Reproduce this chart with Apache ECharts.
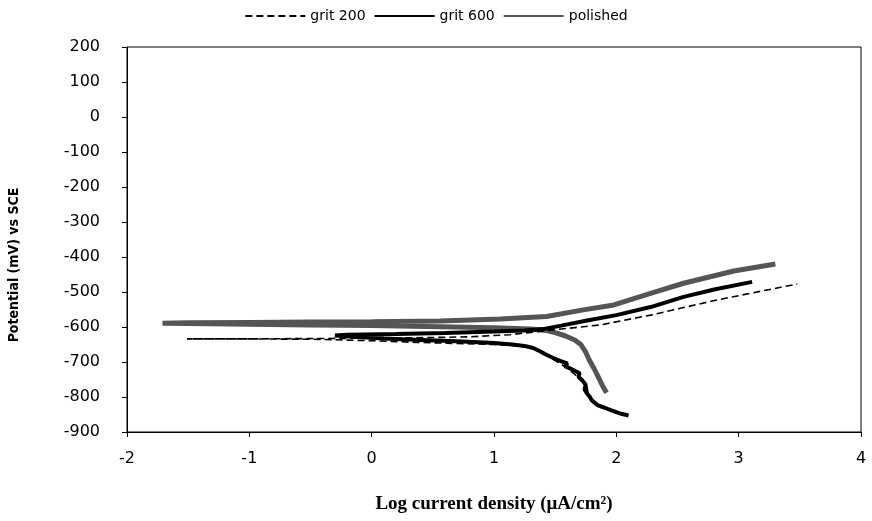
<!DOCTYPE html>
<html>
<head>
<meta charset="utf-8">
<script src="https://cdn.jsdelivr.net/npm/echarts@6/dist/echarts.min.js"></script>
<style>
html,body{margin:0;padding:0;background:#fff;}
#chart{width:872px;height:521px;}
</style>
</head>
<body>
<div id="chart"></div>
<script>
// ---- data (log current density, potential mV vs SCE) ----
const seriesNames = ['grit 200', 'grit 600', 'polished'];

const grit200 = [
  [2.07,-850],[1.95,-836],[1.85,-822],[1.80,-805],[1.77,-790],[1.76,-770],[1.72,-755],
  [1.66,-735],[1.60,-718],[1.52,-700],[1.45,-685],[1.38,-670],[1.30,-660],[1.20,-654],
  [1.00,-650],[0.70,-647],[0.37,-644],[0.00,-639],[-0.50,-635],[-1.00,-634],[-1.51,-634],
  [-1.00,-634],[-0.50,-633],[0.00,-632],[0.50,-630],[0.80,-628],[1.13,-622],[1.46,-609],
  [1.87,-594],[2.28,-566],[2.82,-523],[3.48,-477]
];

const grit600 = [
  [2.10,-853],[2.04,-848],[1.96,-838],[1.90,-830],[1.85,-824],[1.80,-810],[1.78,-798],
  [1.76,-790],[1.74,-778],[1.75,-765],[1.72,-752],[1.69,-742],[1.70,-732],[1.66,-725],
  [1.62,-718],[1.58,-712],[1.60,-704],[1.54,-697],[1.48,-688],[1.42,-678],[1.38,-670],
  [1.32,-660],[1.25,-654],[1.15,-650],[1.00,-646],[0.70,-641],[0.40,-637],[0.10,-633],
  [-0.15,-628],[-0.30,-624],[-0.20,-622],[0.20,-620],[0.60,-617],[1.00,-613],[1.25,-610],
  [1.40,-606],[1.55,-596],[1.75,-582],[2.00,-566],[2.28,-543],[2.55,-514],[2.80,-493],
  [3.11,-471]
];

const polished = [
  [1.92,-788],[1.89,-770],[1.86,-748],[1.82,-720],[1.78,-695],[1.75,-672],[1.71,-650],
  [1.66,-637],[1.58,-625],[1.50,-616],[1.43,-610],[1.30,-606],[1.00,-602],[0.56,-599],
  [0.00,-596],[-0.50,-594],[-1.00,-592],[-1.50,-590],[-1.71,-589],[-1.50,-588],
  [-1.00,-587],[-0.50,-586],[0.00,-585],[0.56,-583],[1.05,-577],[1.43,-570],[1.73,-551],
  [1.98,-537],[2.28,-504],[2.55,-475],[2.96,-440],[3.30,-420]
];

const xTicks = { min: -2, max: 4, interval: 1 };
const yTicks = { min: -900, max: 200, interval: 100 };

const xTitle = 'Log current density (μA/cm²)';
const yTitle = 'Potential (mV) vs SCE';

const chart = echarts.init(document.getElementById('chart'), null, { renderer: 'canvas' });

const labelFont = { fontFamily: 'DejaVu Sans', fontSize: 16, color: '#000' };

chart.setOption({
  animation: false,
  backgroundColor: '#fff',
  legend: {
    top: 4,
    left: 'center',
    itemWidth: 60,
    itemHeight: 12,
    itemGap: 8,
    itemStyle: { opacity: 0 },
    textStyle: { fontFamily: 'DejaVu Sans', fontSize: 14, color: '#000' },
    data: seriesNames
  },
  graphic: [{
    type: 'text',
    x: 14,
    y: 265,
    rotation: Math.PI / 2,
    style: {
      text: yTitle,
      fontFamily: 'DejaVu Sans Condensed, Liberation Sans',
      fontWeight: 'bold',
      fontSize: 14,
      fill: '#000',
      align: 'center',
      verticalAlign: 'middle'
    }
  }],
  grid: {
    left: 127, right: 11, top: 47, bottom: 89,
    show: true, borderColor: '#000', borderWidth: 1, backgroundColor: 'transparent'
  },
  xAxis: {
    type: 'value',
    min: xTicks.min, max: xTicks.max, interval: xTicks.interval,
    axisLine: { onZero: false, lineStyle: { color: '#000', width: 1 } },
    axisTick: { show: true, length: 5, lineStyle: { color: '#000' } },
    axisLabel: Object.assign({ margin: 19 }, labelFont),
    splitLine: { show: false },
    name: xTitle,
    nameLocation: 'middle',
    nameGap: 63,
    nameTextStyle: { fontFamily: 'Liberation Serif', fontWeight: 'bold', fontSize: 19, color: '#000' }
  },
  yAxis: {
    type: 'value',
    min: yTicks.min, max: yTicks.max, interval: yTicks.interval,
    axisLine: { onZero: false, lineStyle: { color: '#000', width: 1 } },
    axisTick: { show: true, length: 5, lineStyle: { color: '#000' } },
    axisLabel: Object.assign({ margin: 27 }, labelFont),
    splitLine: { show: false }
  },
  series: [
    {
      name: seriesNames[0], type: 'line', data: grit200,
      symbol: 'none', smooth: false,
      lineStyle: { color: '#000', width: 1.6, type: [7, 4] },
      itemStyle: { color: '#000' },
      z: 3
    },
    {
      name: seriesNames[1], type: 'line', data: grit600,
      symbol: 'none', smooth: false,
      lineStyle: { color: '#000', width: 4 },
      itemStyle: { color: '#000' },
      z: 2
    },
    {
      name: seriesNames[2], type: 'line', data: polished,
      symbol: 'none', smooth: false,
      lineStyle: { color: '#555', width: 5 },
      itemStyle: { color: '#555' },
      z: 1
    }
  ]
});
</script>
</body>
</html>
